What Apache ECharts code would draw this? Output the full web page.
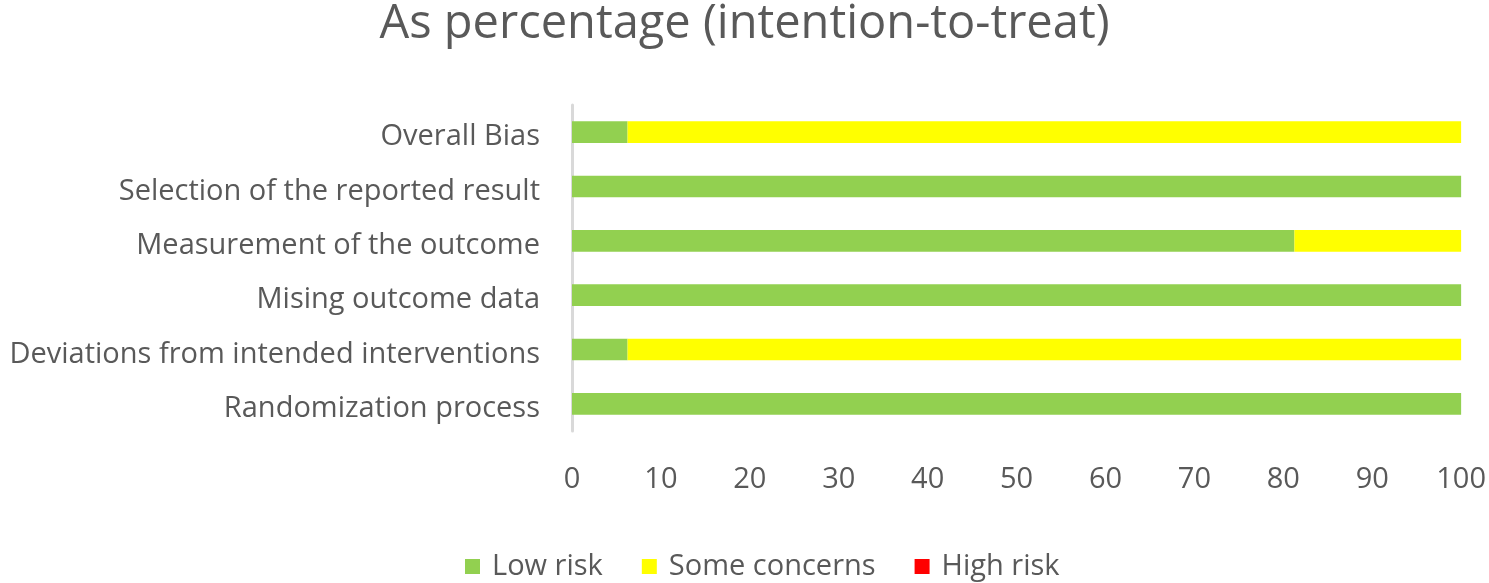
<!DOCTYPE html>
<html>
<head>
<meta charset="utf-8">
<script src="https://cdn.jsdelivr.net/npm/echarts@6/dist/echarts.min.js"></script>
<style>
    html, body { margin: 0; padding: 0; background: #fff; }
    #main { width: 1489px; height: 583px; }
</style>
</head>
<body>
<div id="main"></div>
<script>
// 分类（自下而上）
var domains = [
    "Randomization process",
    "Deviations from intended interventions",
    "Mising outcome data",
    "Measurement of the outcome",
    "Selection of the reported result",
    "Overall Bias"
];
var lowRisk = [100, 6.25, 100, 81.25, 100, 6.25];
var someConcerns = [0, 93.75, 0, 18.75, 0, 93.75];
var highRisk = [0, 0, 0, 0, 0, 0];
var xTicks = [0, 10, 20, 30, 40, 50, 60, 70, 80, 90, 100];

var fontName = "Open Sans";
var textColor = "#595959";

var chart = echarts.init(document.getElementById("main"));
var option = {
    animation: false,
    title: {
        text: "As percentage (intention-to-treat)",
        left: "center",
        top: -4,
        textStyle: {
            fontFamily: fontName,
            fontSize: 47,
            fontWeight: "normal",
            color: textColor
        }
    },
    legend: {
        bottom: -3,
        left: 460,
        itemWidth: 15,
        itemHeight: 15,
        itemGap: 39,
        icon: "rect",
        textStyle: {
            fontFamily: fontName,
            fontSize: 29,
            color: textColor,
            padding: [0, 0, 0, 7]
        },
        data: ["Low risk", "Some concerns", "High risk"]
    },
    grid: {
        left: 572,
        right: 22,
        top: 105,
        bottom: 152
    },
    xAxis: {
        type: "value",
        min: 0,
        max: 100,
        interval: 10,
        axisLine: { show: false },
        axisTick: { show: false },
        splitLine: { show: false },
        axisLabel: {
            margin: 34,
            fontFamily: fontName,
            fontSize: 29,
            color: textColor,
            formatter: function (v) {
                return xTicks.indexOf(v) >= 0 ? String(v) : "";
            }
        }
    },
    yAxis: {
        type: "category",
        data: domains,
        axisLine: { show: true, lineStyle: { color: "#d9d9d9", width: 3 } },
        axisTick: { show: false },
        axisLabel: {
            margin: 32,
            formatter: function (v) {
                return "{t|" + v + "}";
            },
            rich: {
                t: {
                    fontFamily: fontName,
                    fontSize: 29,
                    color: textColor,
                    padding: [10, 0, 0, 0]
                }
            }
        }
    },
    series: [
        {
            name: "Low risk",
            type: "bar",
            stack: "total",
            barWidth: "40%",
            itemStyle: { color: "#92d050" },
            data: lowRisk
        },
        {
            name: "Some concerns",
            type: "bar",
            stack: "total",
            barWidth: "40%",
            itemStyle: { color: "#ffff00" },
            data: someConcerns
        },
        {
            name: "High risk",
            type: "bar",
            stack: "total",
            barWidth: "40%",
            itemStyle: { color: "#ff0000" },
            data: highRisk
        }
    ]
};
chart.setOption(option);
</script>
</body>
</html>
